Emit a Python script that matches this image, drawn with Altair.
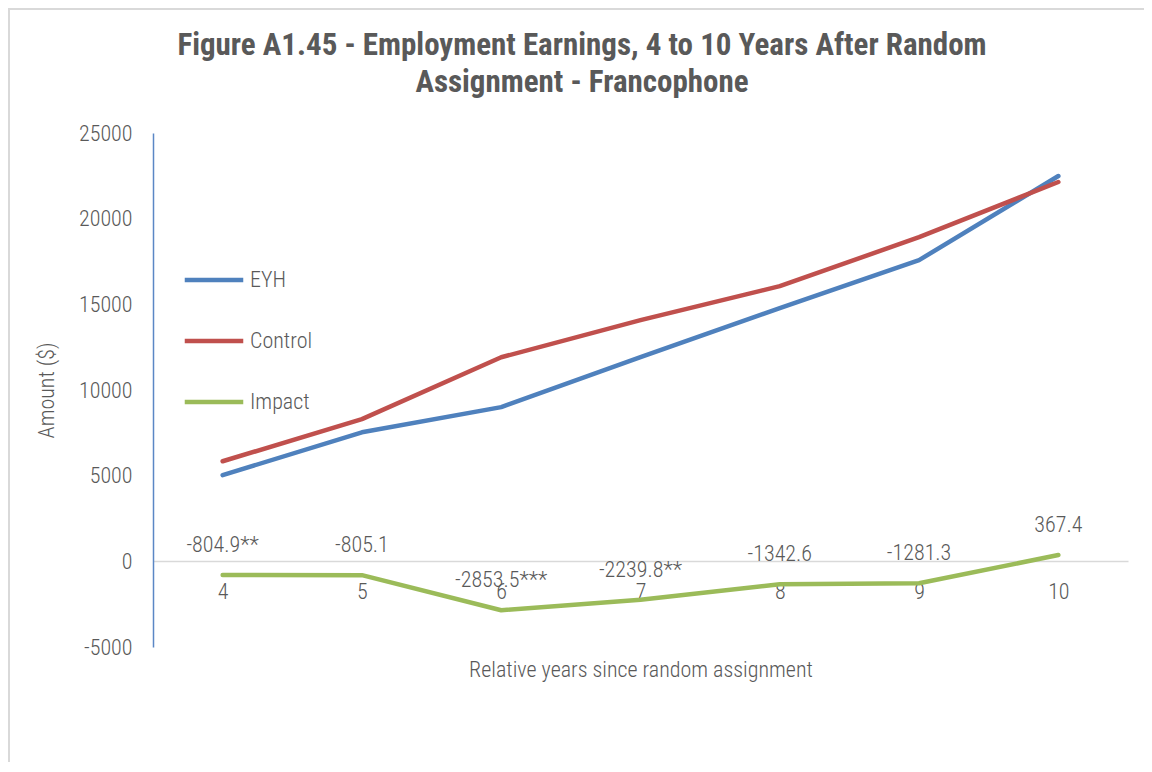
import altair as alt
import pandas as pd

# ---- data ----
years = [4, 5, 6, 7, 8, 9, 10]
eyh = [5030, 7530, 9000, 11920, 14780, 17580, 22490]
control = [5840, 8300, 11910, 14080, 16060, 18920, 22140]
impact = [-804.9, -805.1, -2853.5, -2239.8, -1342.6, -1281.3, 367.4]
impact_labels = ["-804.9**", "-805.1", "-2853.5***", "-2239.8**", "-1342.6", "-1281.3", "367.4"]
series_names = ["EYH", "Control", "Impact"]
series_colors = ["#4F81BD", "#C0504D", "#9BBB59"]
y_ticks = [-5000, 0, 5000, 10000, 15000, 20000, 25000]
title_lines = ["Figure A1.45 - Employment Earnings, 4 to 10 Years After Random",
               "Assignment - Francophone"]
x_title = "Relative years since random assignment"
y_title = "Amount ($)"

rows = []
for name, vals in zip(series_names, [eyh, control, impact]):
    for yr, v in zip(years, vals):
        rows.append({"year": str(yr), "yr": yr, "series": name, "amount": v})
df = pd.DataFrame(rows)
lab = pd.DataFrame({"year": [str(y) for y in years], "amount": impact, "label": impact_labels})

FONT = "Roboto Condensed, Liberation Sans Narrow, Arial Narrow, DejaVu Sans Condensed, sans-serif"
GREY = "#595959"
W, H = 975, 514
LW = 300

x_enc = alt.X(
    "year:O",
    sort=[str(y) for y in years],
    scale=alt.Scale(type="point", padding=0.5),
    axis=alt.Axis(
        title=x_title, offset=-86, domainColor="#D9D9D9", domainWidth=1.5,
        ticks=False, labelAngle=0, labelPadding=20, labelFontSize=22,
        labelColor=GREY, labelFont=FONT, labelFontWeight=LW, titleFont=FONT,
        titleFontSize=22, titleColor=GREY, titleFontWeight=LW, titleX=W / 2,
        titleY=108, titleBaseline="middle", titleAlign="center",
    ),
)
y_enc = alt.Y(
    "amount:Q",
    scale=alt.Scale(domain=[-5000, 25000], nice=False, zero=False),
    axis=alt.Axis(
        values=y_ticks, labelExpr="toString(datum.value)", grid=False, ticks=False,
        domainColor="#5B87C5", domainWidth=1.5, labelPadding=21, labelFontSize=22,
        labelColor=GREY, labelFont=FONT, labelFontWeight=LW, title=y_title,
        titleFont=FONT, titleFontSize=22, titleColor=GREY, titleFontWeight=LW,
        titleX=-107, titleY=H / 2, titleAngle=-90, titleBaseline="middle",
        titleAlign="center",
    ),
)

lines = alt.Chart(df).mark_line(strokeWidth=4.5, strokeCap="round", strokeJoin="round").encode(
    x=x_enc,
    y=y_enc,
    color=alt.Color(
        "series:N",
        scale=alt.Scale(domain=series_names, range=series_colors),
        sort=series_names,
        legend=alt.Legend(
            title=None, orient="none", legendX=29, legendY=115,
            symbolType="stroke", symbolSize=3424, symbolStrokeWidth=4.5,
            labelFontSize=22, labelColor=GREY, labelFont=FONT, labelFontWeight=LW,
            rowPadding=18, labelOffset=4, padding=0,
        ),
    ),
    order=alt.Order("yr:Q"),
)

labels = alt.Chart(lab).mark_text(dy=-30, fontSize=22, font=FONT, fontWeight=LW, color=GREY).encode(
    x=alt.X("year:O", sort=[str(y) for y in years]),
    y="amount:Q",
    text="label:N",
)

border = alt.Chart(pd.DataFrame({"a": [0]})).mark_rect(
    fill="white", fillOpacity=0, stroke="#D9D9D9", strokeWidth=2
).encode(x=alt.value(-144), x2=alt.value(W + 40), y=alt.value(-124), y2=alt.value(H + 150))

title1 = alt.Chart(pd.DataFrame({"t": [title_lines[0]]})).mark_text(
    fontSize=31, font=FONT, fontWeight="bold", color=GREY, align="center", baseline="middle"
).encode(text="t:N", x=alt.value(429), y=alt.value(-87))
title2 = alt.Chart(pd.DataFrame({"t": [title_lines[1]]})).mark_text(
    fontSize=31, font=FONT, fontWeight="bold", color=GREY, align="center", baseline="middle"
).encode(text="t:N", x=alt.value(429), y=alt.value(-50))

chart = alt.layer(border, lines, labels, title1, title2).properties(
    width=W, height=H,
    autosize=alt.AutoSizeParams(type="none"),
    padding={"left": 145, "top": 125, "right": 16, "bottom": 115},
).configure(background="white").configure_view(stroke=None, strokeWidth=0)

chart.save("out.html", embed_options={"renderer": "svg", "actions": False})
